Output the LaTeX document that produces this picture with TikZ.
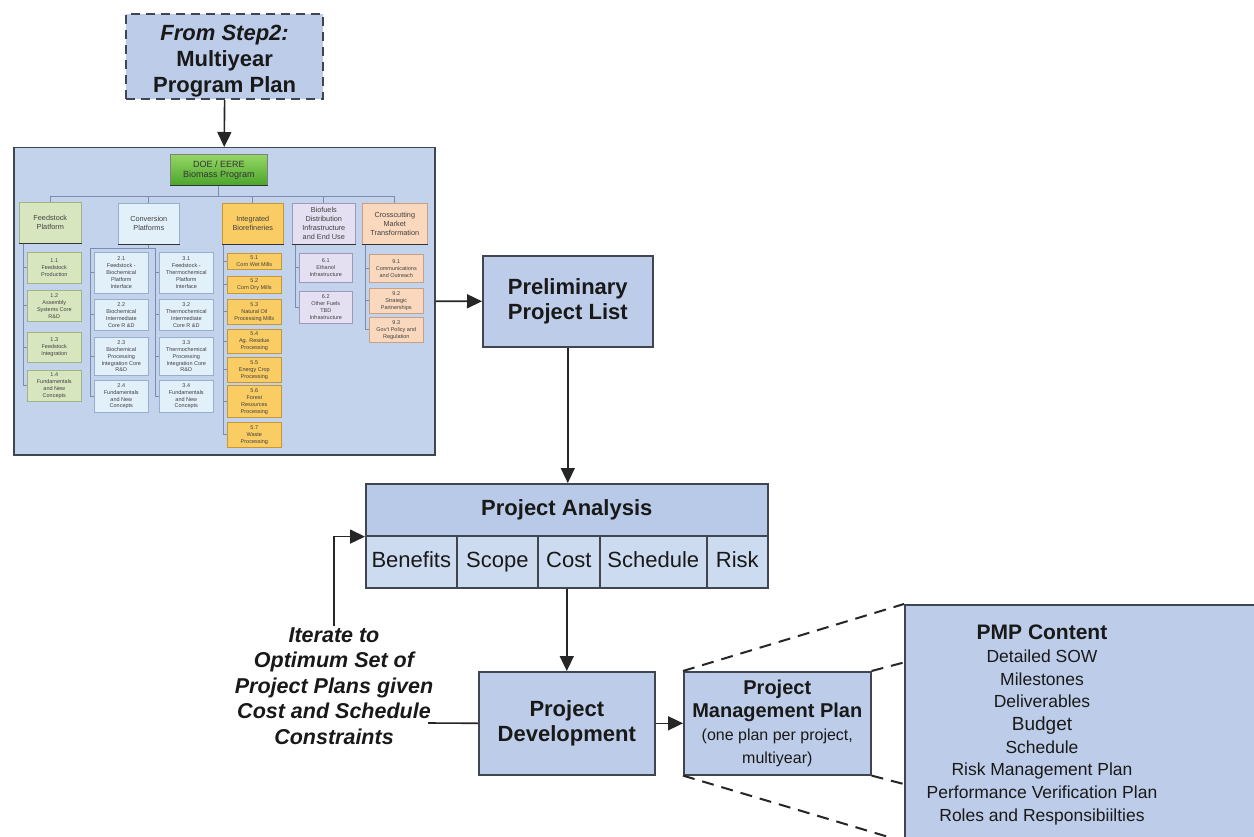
\documentclass[tikz,border=0pt]{standalone}
\usepackage{fontspec}
\setmainfont{Liberation Sans}
\usetikzlibrary{arrows.meta,calc}
\definecolor{boxblue}{RGB}{189,205,233}
\definecolor{hdrblue}{RGB}{184,202,232}
\definecolor{cellblue}{RGB}{205,219,240}
\definecolor{orgbg}{RGB}{196,211,236}
\definecolor{edgegray}{RGB}{64,70,80}
\definecolor{oclinecol}{RGB}{120,140,180}
\definecolor{grnfill}{RGB}{216,230,192}
\definecolor{grnedge}{RGB}{160,180,130}
\definecolor{blufill}{RGB}{226,240,250}
\definecolor{bluedge}{RGB}{150,175,205}
\definecolor{orgfill}{RGB}{250,204,100}
\definecolor{orgedge}{RGB}{200,150,50}
\definecolor{lavfill}{RGB}{228,224,242}
\definecolor{lavedge}{RGB}{160,150,190}
\definecolor{pchfill}{RGB}{250,216,190}
\definecolor{pchedge}{RGB}{200,160,130}
\definecolor{doetop}{RGB}{150,215,100}
\definecolor{doebot}{RGB}{75,165,45}
\newcommand\pmpbold[1]{{\bfseries\fontsize{20}{23}\selectfont #1}}
\tikzset{
 mainbox/.style={draw=edgegray, line width=1.6pt, fill=boxblue, align=center, inner sep=1pt, text=black!90},
 bigb/.style={font=\bfseries\fontsize{22}{25}\selectfont},
 pacell/.style={mainbox, fill=cellblue, anchor=north west, minimum height=52pt, text height=16pt, text depth=4.5pt, font=\fontsize{22}{25}\selectfont},
 arr/.style={line width=1.6pt, draw=black!85, -{Triangle[length=15pt,width=14pt]}},
 solidline/.style={line width=1.6pt, draw=black!85},
 zoomdash/.style={line width=2pt, draw=black!85, dash pattern=on 12pt off 8pt},
 catbox/.style={anchor=north west, align=center, inner sep=0.5pt, line width=0.6pt, font=\fontsize{7.3}{9}\selectfont, text=black!75},
 subbox/.style={anchor=north west, align=center, inner sep=0.5pt, line width=0.6pt, font=\fontsize{5.5}{6.9}\selectfont, text=black!75},
 fcol/.style={fill=grnfill, draw=grnedge},
 ccol/.style={fill=blufill, draw=bluedge},
 icol/.style={fill=orgfill, draw=orgedge},
 bcol/.style={fill=lavfill, draw=lavedge},
 xcol/.style={fill=pchfill, draw=pchedge},
 ocl/.style={draw=oclinecol, line width=0.7pt},
 shadowline/.style={draw=black!80, line width=1.8pt},
}
\begin{document}
\begin{tikzpicture}[x=1pt,y=-1pt]
\fill[white] (0,0) rectangle (1254,837);
\useasboundingbox (0,0) rectangle (1254,837);

% top dashed box
\node[mainbox, dash pattern=on 9pt off 6pt, line width=2.2pt, anchor=north west, minimum width=197pt, minimum height=85pt, inner sep=0pt, font=\bfseries\fontsize{22}{26}\selectfont] (mypp) at (125,13) {\rule{0pt}{24pt}\textit{From Step2:}\\Multiyear\\Program Plan};

% org chart background
\node[draw=edgegray, line width=1.5pt, fill=orgbg, anchor=north west, minimum width=421pt, minimum height=307pt, inner sep=0pt] (org) at (13,147) {};

% DOE box
\node[anchor=north west, minimum width=97pt, minimum height=31pt, top color=doetop, bottom color=doebot, draw=black!50, line width=0.6pt, align=center, inner sep=0.5pt, font=\fontsize{9}{10}\selectfont, text=black!80] (doe) at (170,154) {DOE / EERE\\Biomass Program};
\draw[shadowline] (doe.south west) -- (doe.south east);

% categories
\node[catbox, fcol, minimum width=62pt, minimum height=41pt] (fcat) at (19,202) {Feedstock\\Platform};
\node[catbox, ccol, minimum width=61pt, minimum height=41pt] (ccat) at (118,203) {Conversion\\Platforms};
\node[catbox, icol, minimum width=61pt, minimum height=41pt] (icat) at (222,203) {Integrated\\Biorefineries};
\node[catbox, bcol, minimum width=63pt, minimum height=41pt] (bcat) at (292,203) {Biofuels\\Distribution\\Infrastructure\\and End Use};
\node[catbox, xcol, minimum width=65pt, minimum height=41pt] (xcat) at (362,203) {Crosscutting\\Market\\Transformation};
\foreach \c in {fcat,ccat,icat,bcat,xcat} \draw[shadowline] (\c.south west) -- (\c.south east);

% feedstock items
\node[subbox, fcol, minimum width=54pt, minimum height=31pt] (f1) at (27,252) {1.1\\Feedstock\\Production};
\node[subbox, fcol, minimum width=54pt, minimum height=31pt] (f2) at (27,290) {1.2\\Assembly\\Systems Core\\R\&D};
\node[subbox, fcol, minimum width=54pt, minimum height=30pt] (f3) at (27,332) {1.3\\Feedstock\\Integration};
\node[subbox, fcol, minimum width=54pt, minimum height=31pt] (f4) at (27,370) {1.4\\Fundamentals\\and New\\Concepts};

% conversion items
\node[subbox, ccol, minimum width=54pt, minimum height=41pt] (c21) at (94,252) {2.1\\Feedstock -\\Biochemical\\Platform\\Interface};
\node[subbox, ccol, minimum width=54pt, minimum height=31pt] (c22) at (94,299) {2.2\\Biochemical\\Intermediate\\Core R \&D};
\node[subbox, ccol, minimum width=54pt, minimum height=38pt] (c23) at (94,337) {2.3\\Biochemical\\Processing\\Integration Core\\R\&D};
\node[subbox, ccol, minimum width=54pt, minimum height=32pt] (c24) at (94,380) {2.4\\Fundamentals\\and New\\Concepts};
\node[subbox, ccol, minimum width=54pt, minimum height=41pt] (c31) at (159,252) {3.1\\Feedstock -\\Thermochemical\\Platform\\Interface};
\node[subbox, ccol, minimum width=54pt, minimum height=31pt] (c32) at (159,299) {3.2\\Thermochemical\\Intermediate\\Core R \&D};
\node[subbox, ccol, minimum width=54pt, minimum height=38pt] (c33) at (159,337) {3.3\\Thermochemical\\Processing\\Integration Core\\R\&D};
\node[subbox, ccol, minimum width=54pt, minimum height=32pt] (c34) at (159,380) {3.4\\Fundamentals\\and New\\Concepts};

% integrated biorefineries items
\node[subbox, icol, minimum width=54pt, minimum height=16pt] (i1) at (227,253) {5.1\\Corn Wet Mills};
\node[subbox, icol, minimum width=54pt, minimum height=17pt] (i2) at (227,276) {5.2\\Corn Dry Mills};
\node[subbox, icol, minimum width=54pt, minimum height=25pt] (i3) at (227,299) {5.3\\Natural Oil\\Processing Mills};
\node[subbox, icol, minimum width=54pt, minimum height=24pt] (i4) at (227,329) {5.4\\Ag. Residue\\Processing};
\node[subbox, icol, minimum width=54pt, minimum height=25pt] (i5) at (227,357) {5.5\\Energy Crop\\Processing};
\node[subbox, icol, minimum width=54pt, minimum height=32pt] (i6) at (227,385) {5.6\\Forest\\Resources\\Processing};
\node[subbox, icol, minimum width=54pt, minimum height=25pt] (i7) at (227,422) {5.7\\Waste\\Processing};

% biofuels items
\node[subbox, bcol, minimum width=53pt, minimum height=29pt] (b1) at (299,253) {6.1\\Ethanol\\Infrastructure};
\node[subbox, bcol, minimum width=53pt, minimum height=32pt] (b2) at (299,291) {6.2\\Other Fuels\\TBD\\Infrastructure};

% crosscutting items
\node[subbox, xcol, minimum width=54pt, minimum height=28pt] (x1) at (369,254) {9.1\\Communications\\and Outreach};
\node[subbox, xcol, minimum width=54pt, minimum height=25pt] (x2) at (369,288) {9.2\\Strategic\\Partnerships};
\node[subbox, xcol, minimum width=54pt, minimum height=25pt] (x3) at (369,317) {9.3\\Gov't Policy and\\Regulation};

% org chart connectors
\coordinate (busy) at (0,196);
\draw[ocl] (doe.south) -- (doe.south |- busy);
\draw[ocl] (fcat.north |- busy) -- (xcat.north |- busy);
\foreach \c in {fcat,ccat,icat,bcat,xcat} \draw[ocl] (\c.north |- busy) -- (\c.north);

\coordinate (fx) at (23,0);
\draw[ocl] (fx |- fcat.south) -- (fx |- f4.west);
\foreach \n in {f1,f2,f3,f4} \draw[ocl] (fx |- \n.west) -- (\n.west);

\coordinate (cy) at (0,248);
\coordinate (c2x) at (90,0);
\coordinate (c3x) at (155,0);
\draw[ocl] (ccat.south) -- (ccat.south |- cy);
\draw[ocl] (c2x |- cy) -- (c3x |- cy);
\draw[ocl] (c2x |- cy) -- (c2x |- c24.west);
\draw[ocl] (c3x |- cy) -- (c3x |- c34.west);
\foreach \n in {c21,c22,c23,c24} \draw[ocl] (c2x |- \n.west) -- (\n.west);
\foreach \n in {c31,c32,c33,c34} \draw[ocl] (c3x |- \n.west) -- (\n.west);

\coordinate (ix) at (223,0);
\draw[ocl] (ix |- icat.south) -- (ix |- i7.west);
\foreach \n in {i1,i2,i3,i4,i5,i6,i7} \draw[ocl] (ix |- \n.west) -- (\n.west);

\coordinate (bx) at (295,0);
\draw[ocl] (bx |- bcat.south) -- (bx |- b2.west);
\foreach \n in {b1,b2} \draw[ocl] (bx |- \n.west) -- (\n.west);

\coordinate (xx) at (365,0);
\draw[ocl] (xx |- xcat.south) -- (xx |- x3.west);
\foreach \n in {x1,x2,x3} \draw[ocl] (xx |- \n.west) -- (\n.west);

% main flow boxes
\node[mainbox, bigb, anchor=north west, minimum width=170pt, minimum height=91pt] (prelim) at (482,255) {Preliminary\\Project List};

\node[mainbox, bigb, fill=hdrblue, anchor=north west, minimum width=402pt, minimum height=52pt, text height=16pt, text depth=4.5pt] (pahdr) at (365,483) {Project Analysis};
\node[pacell, minimum width=91pt] (benefits) at (365,535) {Benefits};
\node[pacell, minimum width=81pt] (scope) at (456,535) {Scope};
\node[pacell, minimum width=62pt] (cost) at (537,535) {Cost};
\node[pacell, minimum width=107pt] (sched) at (599,535) {Schedule};
\node[pacell, minimum width=61pt] (risk) at (706,535) {Risk};

\node[mainbox, bigb, anchor=north west, minimum width=176pt, minimum height=103pt] (pd) at (478,671) {Project\\Development};

\node[align=center, inner sep=1pt, font=\bfseries\itshape\fontsize{21.5}{25.5}\selectfont, text=black!90] (iter) at (334,686) {Iterate to\\Optimum Set of\\Project Plans given\\Cost and Schedule\\Constraints};
\coordinate (itend) at (428,723);

\node[mainbox, anchor=north west, minimum width=187pt, minimum height=103pt, font=\fontsize{16}{23}\selectfont] (pmp) at (683,671) {\pmpbold{Project}\\\pmpbold{Management Plan}\\(one plan per project,\\multiyear)};

\node[draw=edgegray, line width=1.6pt, fill=boxblue, anchor=north west, minimum width=360pt, minimum height=236pt, inner sep=0pt] (pmpbox) at (904,604) {};
\node[align=center, inner sep=0pt, font=\fontsize{17.5}{22.7}\selectfont, text=black!90] (pmptext) at (1042,725) {{\bfseries\fontsize{21}{22.7}\selectfont PMP Content}\\Detailed SOW\\Milestones\\Deliverables\\{\fontsize{19}{22.7}\selectfont Budget}\\Schedule\\Risk Management Plan\\Performance Verification Plan\\Roles and Responsibiilties};

% zoom dashed lines
\draw[zoomdash] (pmp.north west) -- (pmpbox.north west);
\draw[zoomdash] (pmp.north east) -- ($(pmpbox.north west)!0.246!(pmpbox.south west)$);
\draw[zoomdash] (pmp.south east) -- ($(pmpbox.north west)!0.758!(pmpbox.south west)$);
\draw[zoomdash] (pmp.south west) -- (pmpbox.south west);

% connectors
\draw[arr] (mypp.south) -- (org.north);
\draw[arr] (org.east) -- (prelim.west);
\draw[arr] (prelim.south) -- (prelim.south |- pahdr.north);
\draw[arr] (pd.north |- cost.south) -- (pd.north);
\draw[arr] (pd.east) -- (pmp.west);
\draw[arr] (iter.north) |- (pahdr.south west);
\draw[solidline] (itend) -- (pd.west);
\end{tikzpicture}
\end{document}
